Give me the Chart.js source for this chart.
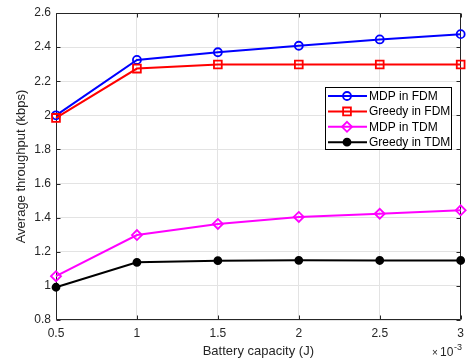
<!DOCTYPE html>
<html><head><meta charset="utf-8">
<script src="https://cdn.jsdelivr.net/npm/chart.js@4/dist/chart.umd.min.js"></script>
<style>html,body{margin:0;padding:0;background:#fff}#wrap{width:470px;height:360px}</style>
</head><body><div id="wrap"><canvas id="c" width="470" height="360"></canvas></div>
<script>
const capacity = [0.5, 1, 1.5, 2, 2.5, 3];
const xTickLabels = ['0.5', '1', '1.5', '2', '2.5', '3'];
const yTickValues = [0.8, 1, 1.2, 1.4, 1.6, 1.8, 2, 2.2, 2.4, 2.6];
const yTickLabels = ['0.8', '1', '1.2', '1.4', '1.6', '1.8', '2', '2.2', '2.4', '2.6'];
const mdpFdm    = [2.000, 2.325, 2.370, 2.408, 2.445, 2.476];
const greedyFdm = [1.985, 2.274, 2.298, 2.298, 2.298, 2.298];
const mdpTdm    = [1.057, 1.298, 1.363, 1.404, 1.423, 1.443];
const greedyTdm = [0.992, 1.138, 1.148, 1.150, 1.149, 1.149];
const seriesNames = ['MDP in FDM', 'Greedy in FDM', 'MDP in TDM', 'Greedy in TDM'];
const xTitle = 'Battery capacity (J)';
const yTitle = 'Average throughput (kbps)';

const FONT = 'Arial, "Liberation Sans", sans-serif';
const AX = '#262626';

function pts(arr){ return capacity.map((x, i) => ({x: x, y: arr[i]})); }

function drawMarker(ctx, style, x, y, r, color, fill, lw){
  ctx.save();
  ctx.strokeStyle = color; ctx.lineWidth = lw; ctx.fillStyle = fill;
  ctx.beginPath();
  if (style === 'circle') { ctx.arc(x, y, r, 0, Math.PI*2); }
  else if (style === 'rect') { const s = r*Math.SQRT1_2; ctx.rect(x-s, y-s, 2*s, 2*s); }
  else if (style === 'rectRot') { ctx.moveTo(x, y-r); ctx.lineTo(x+r, y); ctx.lineTo(x, y+r); ctx.lineTo(x-r, y); ctx.closePath(); }
  if (fill && fill !== 'rgba(0,0,0,0)') ctx.fill();
  ctx.stroke();
  ctx.restore();
}

function drawText(ctx, txt, x, y, size, align, color, rot){
  ctx.save();
  ctx.font = size + 'px ' + FONT;
  ctx.fillStyle = color || AX;
  ctx.textAlign = align; ctx.textBaseline = 'alphabetic';
  ctx.translate(x, y);
  if (rot) ctx.rotate(rot);
  ctx.fillText(txt, 0, 0);
  ctx.restore();
}

const decor = {
  id: 'decor',
  beforeDatasetsDraw(chart){
    const {ctx, chartArea: a, scales: {x, y}} = chart;
    ctx.save();
    ctx.strokeStyle = AX; ctx.lineWidth = 1;
    const L = Math.round(a.left) + 0.5, R = Math.round(a.right) - 0.5;
    const T = Math.round(a.top) + 0.5, B = Math.round(a.bottom) - 0.5;
    ctx.beginPath();
    ctx.rect(L, T, R - L, B - T);
    capacity.forEach(v => {
      const px = Math.round(x.getPixelForValue(v)) + 0.5;
      ctx.moveTo(px, B); ctx.lineTo(px, B - 4);
      ctx.moveTo(px, T); ctx.lineTo(px, T + 4);
    });
    yTickValues.forEach(v => {
      const py = Math.round(y.getPixelForValue(v)) + 0.5;
      ctx.moveTo(L, py); ctx.lineTo(L + 4, py);
      ctx.moveTo(R, py); ctx.lineTo(R - 4, py);
    });
    ctx.stroke();
    ctx.restore();
  },
  afterDraw(chart){
    const {ctx, chartArea: a} = chart;
    // axis titles
    drawText(ctx, xTitle, (a.left + a.right)/2, 355, 13, 'center');
    drawText(ctx, yTitle, 25, (a.top + a.bottom)/2, 13, 'center', AX, -Math.PI/2);
    // exponent
    drawText(ctx, '\u00d7', 432, 356, 10, 'left');
    drawText(ctx, '10', 440, 356, 12, 'left');
    drawText(ctx, '-3', 454, 350, 9, 'left');
    // legend
    const bx = Math.round(a.right) - 136, by = Math.round(a.top) + 74, bw = 126, bh = 62;
    ctx.save();
    ctx.fillStyle = '#fff'; ctx.fillRect(bx, by, bw, bh);
    ctx.strokeStyle = '#000'; ctx.lineWidth = 1;
    ctx.strokeRect(bx + 0.5, by + 0.5, bw, bh);
    ctx.restore();
    chart.data.datasets.forEach((ds, i) => {
      const cy = by + 9 + i*15.4;
      ctx.save();
      ctx.strokeStyle = ds.borderColor; ctx.lineWidth = ds.borderWidth;
      ctx.beginPath(); ctx.moveTo(bx + 3, cy); ctx.lineTo(bx + 42, cy); ctx.stroke();
      ctx.restore();
      drawMarker(ctx, ds.pointStyle, bx + 22, cy, ds.pointRadius, ds.borderColor, ds.pointBackgroundColor, ds.pointBorderWidth);
      drawText(ctx, seriesNames[i], bx + 44, cy + 4, 12, 'left', '#000');
    });
  }
};

const common = {borderWidth: 2, clip: false, tension: 0, pointBorderWidth: 1.8, pointHoverRadius: 0};
new Chart(document.getElementById('c'), {
  type: 'line',
  data: {
    datasets: [
      Object.assign({}, common, {label: seriesNames[0], data: pts(mdpFdm), borderColor: '#0000ff', pointStyle: 'circle', pointRadius: 4, pointBackgroundColor: 'rgba(0,0,0,0)', order: 4}),
      Object.assign({}, common, {label: seriesNames[1], data: pts(greedyFdm), borderColor: '#ff0000', pointStyle: 'rect', pointRadius: 5.5, pointBackgroundColor: 'rgba(0,0,0,0)', order: 3}),
      Object.assign({}, common, {label: seriesNames[2], data: pts(mdpTdm), borderColor: '#ff00ff', pointStyle: 'rectRot', pointRadius: 5, pointBackgroundColor: 'rgba(0,0,0,0)', order: 2}),
      Object.assign({}, common, {label: seriesNames[3], data: pts(greedyTdm), borderColor: '#000000', pointStyle: 'circle', pointRadius: 3.5, pointBackgroundColor: '#000000', order: 1})
    ]
  },
  options: {
    responsive: false, animation: false, devicePixelRatio: 1,
    layout: {padding: {top: 13, right: 4, left: 0, bottom: 0}},
    plugins: {legend: {display: false}, tooltip: {enabled: false}},
    events: [],
    scales: {
      x: {
        type: 'linear', min: 0.5, max: 3,
        afterBuildTicks: s => { s.ticks = capacity.map(v => ({value: v})); },
        afterFit: s => { s.height = 40; },
        grid: {color: '#e3e3e3', drawTicks: false, lineWidth: 1},
        border: {display: false},
        ticks: {padding: 6, color: AX, font: {family: FONT, size: 12}, maxRotation: 0,
          callback: v => xTickLabels[capacity.findIndex(c => Math.abs(c - v) < 1e-9)]}
      },
      y: {
        min: 0.8, max: 2.6,
        afterBuildTicks: s => { s.ticks = yTickValues.map(v => ({value: v})); },
        afterFit: s => { s.width = 56; },
        grid: {color: '#e3e3e3', drawTicks: false, lineWidth: 1},
        border: {display: false},
        ticks: {padding: 5, color: AX, font: {family: FONT, size: 12},
          callback: v => yTickLabels[yTickValues.findIndex(c => Math.abs(c - v) < 1e-9)]}
      }
    }
  },
  plugins: [decor]
});
</script>
</body></html>
